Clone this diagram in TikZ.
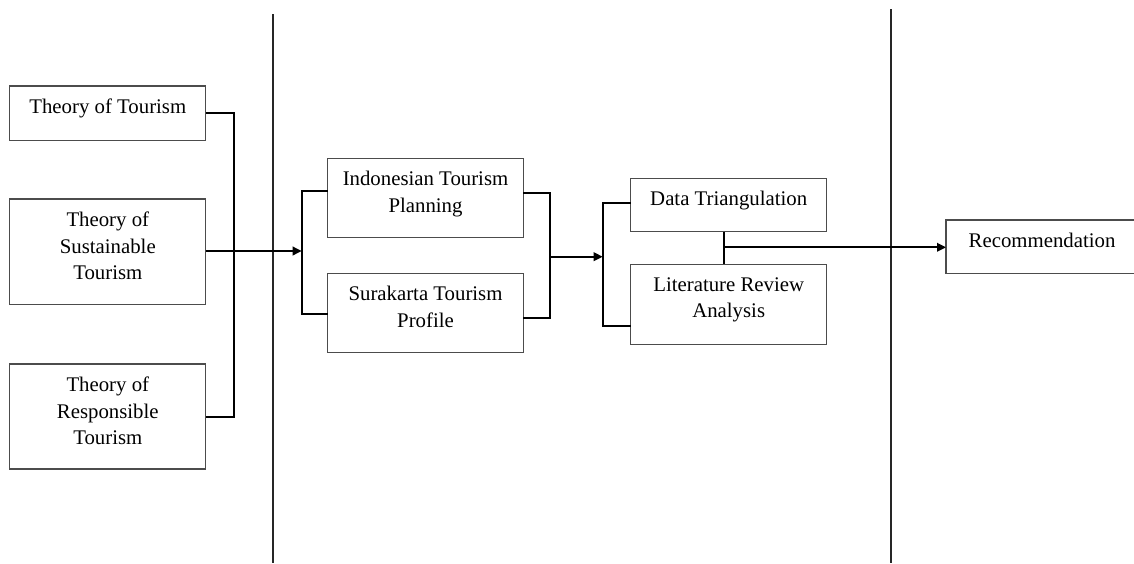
\documentclass[tikz,border=0pt]{standalone}
\usepackage{fontspec}
\setmainfont{Liberation Serif}
\usetikzlibrary{arrows.meta}
\begin{document}
\begin{tikzpicture}[x=1pt,y=-1pt,
  box/.style={draw=black!70, line width=1.2pt, minimum width=196pt, inner sep=0pt, outer sep=0pt},
  txt/.style={anchor=north, align=center, inner sep=0pt, font=\fontsize{20.8}{26.5}\selectfont},
  conn/.style={draw=black, line width=2pt},
  arr/.style={conn, -{Triangle[length=9pt,width=8.5pt]}},
  vline/.style={draw=black!85, line width=2pt}]
\useasboundingbox (0,0) rectangle (1134,563);
\fill[white] (0,0) rectangle (1134,563);
% boxes
\node[box, minimum height=54.7pt] (t1) at (107.8,113.3) {};
\node[box, minimum height=105.7pt] (t2) at (107.8,251.8) {};
\node[box, minimum height=105pt] (t3) at (107.8,416.5) {};
\node[box, minimum width=195.6pt, minimum height=79.4pt] (p1) at (425.5,198) {};
\node[box, minimum width=195.6pt, minimum height=79pt] (p2) at (425.5,312.8) {};
\node[box, minimum height=53.4pt] (d1) at (728.7,205) {};
\node[box, minimum height=80pt] (d2) at (728.7,304.3) {};
\node[box, minimum width=192pt, minimum height=53.3pt] (r) at (1042,246.7) {};
% texts
\node[txt] (t1t) at ([yshift=-13pt]t1.north) {Theory of Tourism};
\node[txt] (t2t) at ([yshift=-13pt]t2.north) {Theory of\\Sustainable\\Tourism};
\node[txt] (t3t) at ([yshift=-13pt]t3.north) {Theory of\\Responsible\\Tourism};
\node[txt] (p1t) at ([yshift=-13pt]p1.north) {Indonesian Tourism\\Planning};
\node[txt] (p2t) at ([yshift=-13pt]p2.north) {Surakarta Tourism\\Profile};
\node[txt] (d1t) at ([yshift=-13pt]d1.north) {Data Triangulation};
\node[txt] (d2t) at ([yshift=-13pt]d2.north) {Literature Review\\Analysis};
\node[txt] (rt) at ([xshift=0pt,yshift=-13pt]r.north) {Recommendation};
% vertical separators
\coordinate (v1a) at (273.3,14);
\coordinate (v1b) at (273.3,563);
\coordinate (v2a) at (890.7,9);
\coordinate (v2b) at (890.7,563);
\draw[vline] (v1a) -- (v1b);
\draw[vline] (v2a) -- (v2b);
% bracket 1
\coordinate (b1) at (234.3,0);
\draw[conn] (t1.east) -| (b1 |- t3.east) -- (t3.east);
\coordinate (b2) at (301.7,251);
\draw[arr] (t2.east |- b2) -- (b2);
% bracket 2 (left of p boxes)
\coordinate (b2t) at (301.7,190.7);
\coordinate (b2b) at (301.7,314);
\draw[conn] (p1.west |- b2t) -- (b2t) -- (b2b) -- (p2.west |- b2b);
% bracket 3 (right of p boxes)
\coordinate (b3t) at (550,193.3);
\coordinate (b3b) at (550,317.7);
\coordinate (b3m) at (550,256.7);
\coordinate (b4m) at (602.7,256.7);
\draw[conn] (p1.east |- b3t) -- (b3t) -- (b3b) -- (p2.east |- b3b);
\draw[arr] (b3m) -- (b4m);
% bracket 4 (left of d boxes)
\coordinate (b4t) at (602.7,202.7);
\coordinate (b4b) at (602.7,326);
\draw[conn] (d1.west |- b4t) -- (b4t) -- (b4b) -- (d2.west |- b4b);
% output connector
\coordinate (cx) at (724.3,247.3);
\draw[conn] (cx |- d1.south) -- (cx |- d2.north);
\draw[arr] (cx) -- (r.west |- cx);
\end{tikzpicture}
\end{document}
